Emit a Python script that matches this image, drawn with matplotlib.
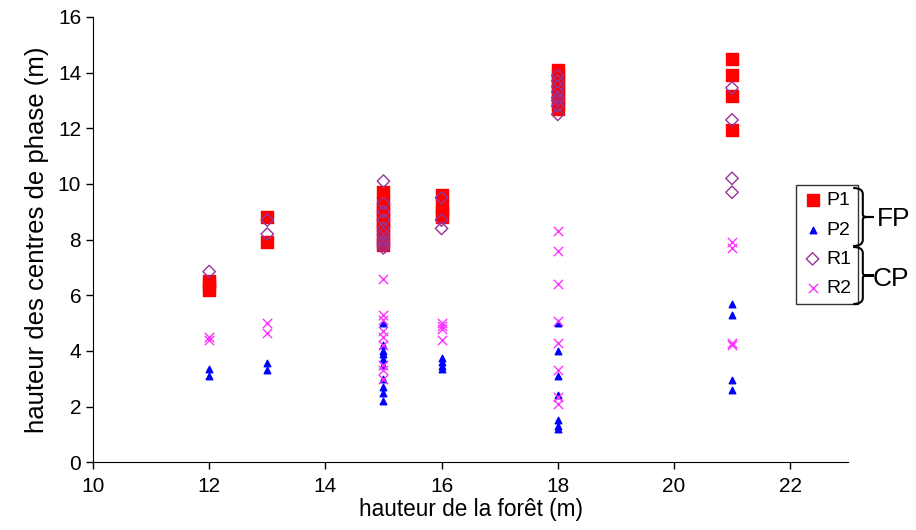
import numpy as np
import matplotlib.pyplot as plt
from matplotlib.path import Path
from matplotlib.patches import PathPatch

plt.rcParams['font.family'] = ['Liberation Sans', 'DejaVu Sans']

# forest height (m) and phase-centre heights (m) per series
p1_x = [12, 12, 12, 13, 13] + [15] * 9 + [16] * 4 + [18] * 8 + [21] * 4
p1_y = [6.2, 6.35, 6.5, 8.8, 7.9,
        9.7, 9.3, 9.1, 8.9, 8.7, 8.5, 8.3, 8.0, 7.8,
        9.6, 9.2, 9.0, 8.8,
        14.1, 13.9, 13.7, 13.5, 13.3, 13.1, 12.9, 12.7,
        14.5, 13.9, 13.15, 11.95]

p2_x = [12, 12, 13, 13] + [15] * 10 + [16] * 4 + [18] * 7 + [21] * 4
p2_y = [3.1, 3.35, 3.55, 3.3,
        5.0, 4.2, 4.0, 3.9, 3.7, 3.5, 3.0, 2.7, 2.5, 2.2,
        3.75, 3.6, 3.45, 3.35,
        5.0, 4.0, 3.1, 2.4, 1.5, 1.3, 1.2,
        5.7, 5.3, 2.95, 2.6]

r1_x = [12, 13, 13] + [15] * 10 + [16] * 3 + [18] * 8 + [21] * 4
r1_y = [6.85, 8.7, 8.2,
        10.1, 9.3, 9.0, 8.7, 8.4, 8.2, 8.0, 7.9, 7.8, 7.7,
        9.5, 8.7, 8.4,
        13.9, 13.7, 13.5, 13.3, 13.1, 13.0, 12.8, 12.5,
        13.45, 12.3, 10.2, 9.7]

r2_x = [12, 12, 13, 13] + [15] * 9 + [16] * 4 + [18] * 8 + [21] * 4
r2_y = [4.4, 4.5, 5.0, 4.65,
        6.6, 5.3, 5.1, 4.7, 4.5, 4.2, 3.5, 3.3, 3.0,
        5.0, 4.9, 4.8, 4.4,
        8.3, 7.6, 6.4, 5.07, 4.3, 3.3, 2.35, 2.1,
        7.9, 7.7, 4.3, 4.2]


def brace(ax, x, y0, y1, w):
    # vertical curly brace opening left, in pixel coords of the overlay
    ym = (y0 + y1) / 2
    verts = [(x - w * 0.3, y0), (x + w * 0.3, y0), (x + w * 0.3, y0 + 6),
             (x + w * 0.3, ym - 4),
             (x + w * 0.3, ym), (x + w * 0.3, ym), (x + w, ym),
             (x + w * 0.3, ym), (x + w * 0.3, ym), (x + w * 0.3, ym + 4),
             (x + w * 0.3, y1 - 6),
             (x + w * 0.3, y1), (x - w * 0.3, y1)]
    codes = [Path.MOVETO, Path.CURVE3, Path.CURVE3,
             Path.LINETO,
             Path.CURVE4, Path.CURVE4, Path.CURVE4,
             Path.CURVE4, Path.CURVE4, Path.CURVE4,
             Path.LINETO,
             Path.CURVE3, Path.CURVE3]
    ax.add_patch(PathPatch(Path(verts, codes), fill=False, lw=1.5, color='black'))


def main():
    fig = plt.figure(figsize=(9.16, 5.3), dpi=100)
    ax = fig.add_axes([0.1015, 0.128, 0.8245, 0.84])

    ax.scatter(p1_x, p1_y, marker='s', s=70, color='#ff0000', label='P1', zorder=2)
    ax.scatter(p2_x, p2_y, marker='^', s=22, color='#0000ff', label='P2', zorder=3)
    ax.scatter(r1_x, r1_y, marker='D', s=40, facecolor='none', edgecolor='#993399',
               linewidths=1.0, label='R1', zorder=4)
    ax.scatter(r2_x, r2_y, marker='x', s=45, color='#ff33ff', linewidths=1.0,
               label='R2', zorder=4)

    ax.set_xlim(10, 23)
    ax.set_ylim(0, 16)
    ax.set_xticks(np.arange(10, 23, 2))
    ax.set_yticks(np.arange(0, 17, 2))
    ax.spines['top'].set_visible(False)
    ax.spines['right'].set_visible(False)
    ax.tick_params(direction='out', length=5, labelsize=15, width=1)
    ax.tick_params(axis='x', pad=6)
    ax.set_xlabel('hauteur de la forêt (m)', fontsize=16.3, labelpad=1)
    ax.set_ylabel('hauteur des centres de phase (m)', fontsize=18.5, labelpad=6)

    leg = ax.legend(loc='upper left', bbox_to_anchor=(796 / 916, 1 - 185 / 530),
                    bbox_transform=fig.transFigure, frameon=True, fancybox=False,
                    edgecolor='black', fontsize=14, handletextpad=0.2,
                    handlelength=1.0, borderpad=0.35, labelspacing=0.6,
                    borderaxespad=0)
    leg.get_frame().set_linewidth(1.0)

    over = fig.add_axes([0, 0, 1, 1])
    over.set_xlim(0, 916)
    over.set_ylim(530, 0)
    over.axis('off')
    over.patch.set_alpha(0)
    brace(over, 858, 188, 246, 16)
    brace(over, 858, 247, 304, 16)
    over.text(877, 219, 'FP', fontsize=19, va='center', ha='left')
    over.text(873, 279, 'CP', fontsize=19, va='center', ha='left')

    fig.savefig('out.png', dpi=100)
    plt.close()


if __name__ == "__main__":
    main()
